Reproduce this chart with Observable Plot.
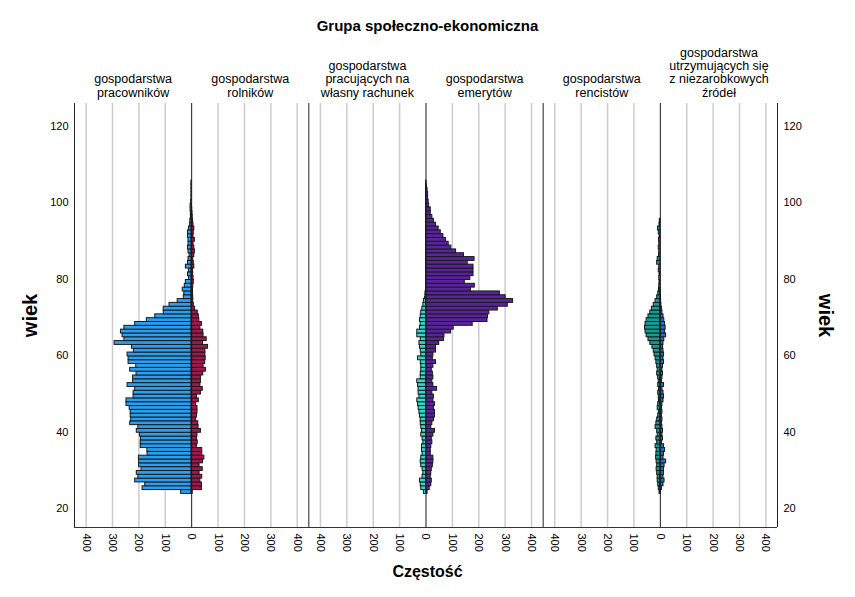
<!DOCTYPE html>
<html><head><meta charset="utf-8">
<script src="https://cdn.jsdelivr.net/npm/d3@7"></script>
<script src="https://cdn.jsdelivr.net/npm/@observablehq/plot@0.6"></script>
<style>
body{margin:0;background:#fff;}
svg{font-family:"Liberation Sans",Arial,sans-serif;}
</style>
</head><body><div id="chart"></div>
<script>
// ---- data (counts per single year of age, starting at firstAge) ----
const firstAge = 24;
const pracownikow = [40,186,176,214,202,208,190,199,199,200,167,168,193,193,192,196,208,202,233,229,231,231,235,247,247,220,220,214,243,222,222,209,233,210,239,239,243,219,226,292,255,262,268,255,214,170,138,106,106,84,53,30,28,34,26,22,10,14,10,22,14,12,8,12,14,12,12,14,14,10,6,5,3,3,4,4,2,1,1,1,1,1];
const rolnikow = [4,39,39,33,40,30,42,30,43,48,40,40,20,23,20,22,35,26,25,17,20,22,22,17,27,20,35,42,33,35,35,44,54,45,51,53,52,52,62,43,57,45,44,33,39,29,27,23,13,8,6,6,5,5,6,8,7,6,5,10,8,6,10,12,10,7,12,7,8,10,7,5,4,3,2,1];
const pracujacych = [8,18,20,23,13,10,13,18,20,18,13,15,15,10,13,18,15,18,20,20,23,25,28,30,33,25,28,28,30,33,20,20,18,18,20,30,18,20,23,25,20,33,33,23,20,23,20,18,14,10,8,4,2];
const emerytow = [6,14,20,22,18,20,22,26,28,28,18,18,20,24,22,28,34,20,24,30,34,34,30,34,28,30,24,42,28,24,28,26,22,28,38,26,28,38,38,50,68,70,95,105,177,233,235,240,272,310,330,302,280,170,185,147,168,180,180,180,158,184,144,114,96,86,76,66,56,48,38,30,24,18,18,12,10,8,8,6,4,2];
const rencistow = [3,6,8,10,10,12,14,12,14,16,15,14,18,12,15,10,12,18,15,12,8,6,10,8,5,6,8,5,8,6,8,12,10,12,15,18,22,25,30,38,45,52,56,58,56,52,45,38,32,25,18,12,8,5,4,3,4,3,6,4,12,10,5,4,6,4,5,3,6,9,3,2];
const utrzymujacych = [2,6,12,16,12,14,14,16,22,12,14,18,14,6,10,8,10,8,6,8,6,8,6,8,12,14,12,8,14,6,8,10,8,10,14,12,14,12,10,12,15,22,18,20,18,15,12,8,6,4,3,2,1,1];

const seriesNames = ["pracowników","rolników","pracujących","emerytów","rencistów","utrzymujących"];
const seriesValues = [pracownikow, rolnikow, pracujacych, emerytow, rencistow, utrzymujacych];
const seriesLabels = [
  "gospodarstwa\npracowników",
  "gospodarstwa\nrolników",
  "gospodarstwa\npracujących na\nwłasny rachunek",
  "gospodarstwa\nemerytów",
  "gospodarstwa\nrencistów",
  "gospodarstwa\nutrzymujących się\nz niezarobkowych\nźródeł"
];
const seriesColors = ["#2a9ff2","#a3174f","#2fd9d0","#5a239e","#149c95","#1e6fd4"];
const freqTicks = [-400,-300,-200,-100,0,100,200,300,400];
const ageTicks = [20,40,60,80,100,120];

// ---- layout helpers (panel = pair of series, left side negative) ----
const HALF = 444, SPAN = 2 * HALF, nPanels = 3;
const rows = [];
seriesValues.forEach((vals, i) => {
  const panel = Math.floor(i / 2), side = i % 2 ? 1 : -1;
  vals.forEach((v, j) => { if (v > 0) rows.push({series: seriesNames[i], panel, side, age: firstAge + j, value: v}); });
});
const allTicks = [], gridTicks = [], zeroTicks = [], borders = [];
for (let p = 0; p < nPanels; ++p) {
  freqTicks.forEach(t => { allTicks.push(p * SPAN + t); if (t !== 0) gridTicks.push(p * SPAN + t); else zeroTicks.push(p * SPAN); });
  borders.push(p * SPAN - HALF);
}
borders.push((nPanels - 1) * SPAN + HALF);
const labelRows = seriesLabels.map((label, i) => ({label, x: Math.floor(i / 2) * SPAN + (i % 2 ? 1 : -1) * HALF / 2}));
const fmt = v => String(Math.abs(v - Math.round(v / SPAN) * SPAN));

const chart = Plot.plot({
  width: 855, height: 597,
  marginTop: 103, marginBottom: 70, marginLeft: 74, marginRight: 78,
  x: {domain: [-HALF, (nPanels - 1) * SPAN + HALF], axis: null},
  y: {domain: [15, 126], axis: null},
  color: {domain: seriesNames, range: seriesColors},
  style: {fontFamily: "'Liberation Sans', Arial, sans-serif", background: "#fff"},
  marks: [
    Plot.ruleX(gridTicks, {stroke: "#cccccc", strokeWidth: 1.5}),
    Plot.rect(rows, {
      x1: d => d.panel * SPAN,
      x2: d => d.panel * SPAN + d.side * d.value,
      y1: d => d.age - 0.2,
      y2: d => d.age + 0.8,
      fill: "series", stroke: "#1a1a1a", strokeWidth: 1
    }),
    Plot.ruleX(zeroTicks, {stroke: "#1a1a1a", strokeWidth: 1}),
    Plot.ruleX(borders, {stroke: "#222", strokeWidth: 1}),
    Plot.ruleY([15], {stroke: "#333", strokeWidth: 1}),
    Plot.axisX({ticks: allTicks, tickFormat: fmt, tickRotate: 90, tickSize: 0, tickPadding: 6, fontSize: 11, anchor: "bottom", label: null}),
    Plot.axisY({ticks: ageTicks, anchor: "left", tickSize: 0, tickPadding: 6, fontSize: 11, label: null}),
    Plot.axisY({ticks: ageTicks, anchor: "right", tickSize: 0, tickPadding: 6, fontSize: 11, label: null}),
    Plot.text(labelRows, {x: "x", text: "label", frameAnchor: "top", lineAnchor: "bottom", dy: -7, fontSize: 12.5, lineHeight: 1.06}),
    Plot.text(["Grupa społeczno-ekonomiczna"], {text: d => d, frameAnchor: "top", dy: -83, dx: 1.5, fontSize: 15, fontWeight: "bold"}),
    Plot.text(["wiek"], {text: d => d, frameAnchor: "left", textAnchor: "middle", dx: -44, rotate: -90, fontSize: 20, fontWeight: "bold"}),
    Plot.text(["wiek"], {text: d => d, frameAnchor: "right", textAnchor: "middle", dx: 48, rotate: 90, fontSize: 20, fontWeight: "bold"}),
    Plot.text(["Częstość"], {text: d => d, frameAnchor: "bottom", dy: 49, dx: 1.5, fontSize: 16, fontWeight: "bold"})
  ]
});
document.getElementById("chart").append(chart);
</script>
</body></html>
